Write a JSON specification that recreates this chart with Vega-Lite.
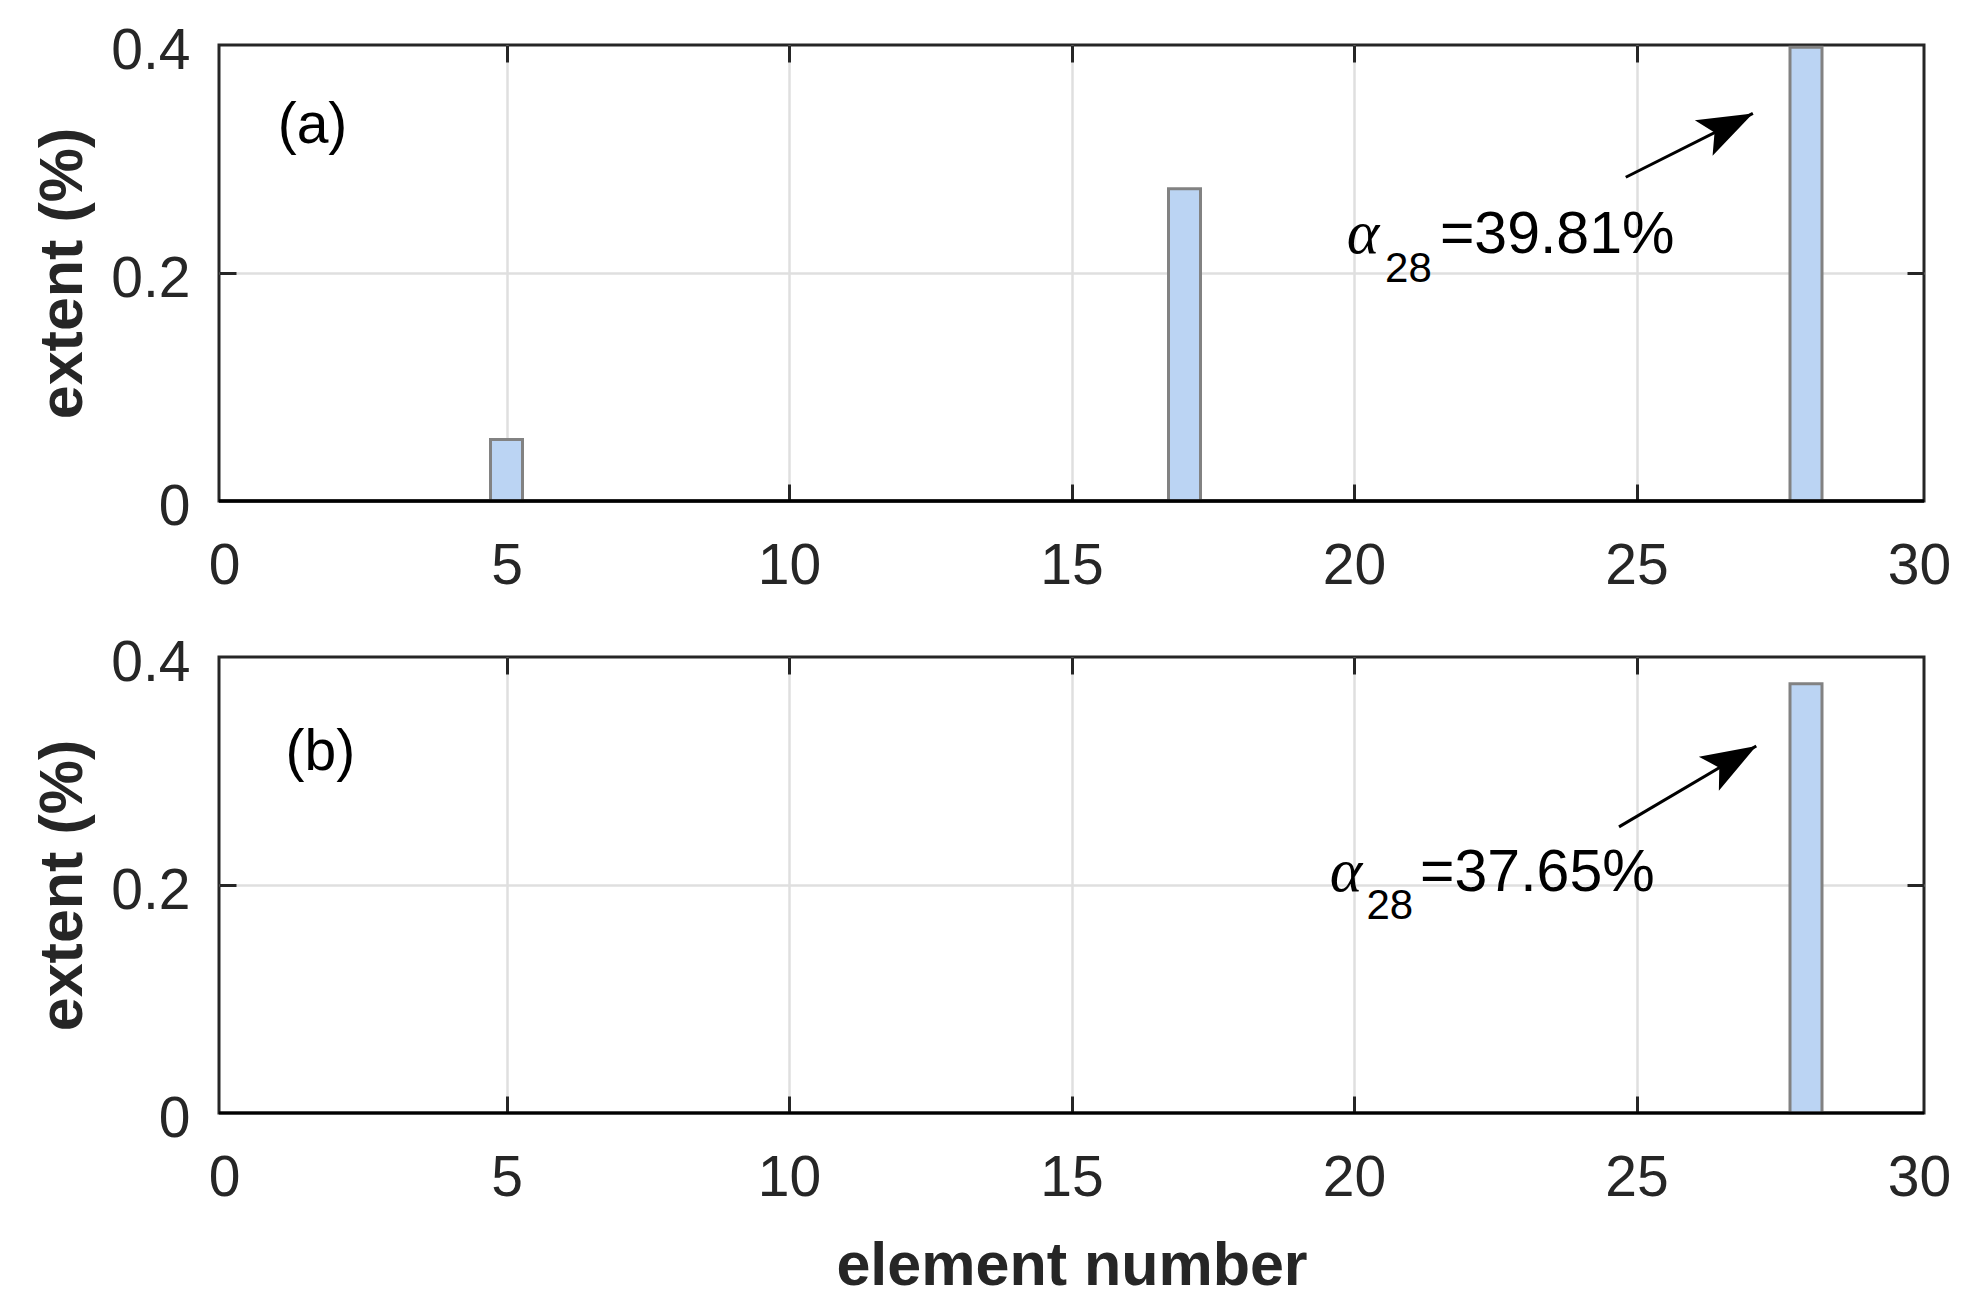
{
  "$schema": "https://vega.github.io/schema/vega-lite/v6.json",
  "description": "Extent per element, two panels (a) and (b), MATLAB-style boxed axes.",
  "padding": {"left": 30, "top": 20, "right": 10, "bottom": 10},
  "background": "white",
  "bounds": "flush",
  "spacing": 156,
  "datasets": {
    "bars_a": [
      {"element": 5, "extent": 0.054},
      {"element": 17, "extent": 0.274},
      {"element": 28, "extent": 0.3981}
    ],
    "bars_b": [
      {"element": 28, "extent": 0.3765}
    ],
    "arrow_a": [{"x": 24.81, "y": 0.284, "x2": 27.06, "y2": 0.34}],
    "arrow_b": [{"x": 24.69, "y": 0.251, "x2": 27.12, "y2": 0.322}]
  },
  "vconcat": [
    {
      "width": 1705,
      "height": 456,
      "layer": [
        {
          "data": {"name": "bars_a"},
          "mark": {"type": "bar", "size": 32, "fill": "#bbd4f3", "stroke": "#828282", "strokeWidth": 3},
          "encoding": {
            "x": {"field": "element", "type": "quantitative", "scale": {"domain": [0, 30], "nice": false},
                  "axis": {"orient": "bottom", "values": [0, 5, 10, 15, 20, 25, 30], "grid": true, "title": null,
                           "gridOpacity": {"condition": {"test": "datum.value === 0 || datum.value === 30", "value": 0}, "value": 1},
                           "tickOpacity": {"condition": {"test": "datum.value === 0 || datum.value === 30", "value": 0}, "value": 1}}},
            "y": {"field": "extent", "type": "quantitative", "scale": {"domain": [0, 0.4], "nice": false},
                  "axis": {"orient": "left", "values": [0, 0.2, 0.4], "grid": true, "format": "~g", "title": "extent (%)", "titleX": -138, "titleBaseline": "alphabetic",
                           "gridOpacity": {"condition": {"test": "datum.value === 0 || datum.value === 0.4", "value": 0}, "value": 1},
                           "tickOpacity": {"condition": {"test": "datum.value === 0 || datum.value === 0.4", "value": 0}, "value": 1}}}
          }
        },
        {
          "data": {"values": [{}]},
          "mark": {"type": "rule", "color": "#000000", "strokeWidth": 3.5},
          "encoding": {"y": {"datum": 0, "type": "quantitative", "scale": {"domain": [0, 0.4], "nice": false}, "axis": null}}
        },
        {
          "data": {"name": "arrow_a"},
          "mark": {"type": "rule", "color": "#000000", "strokeWidth": 3},
          "encoding": {
            "x": {"field": "x", "type": "quantitative", "scale": {"domain": [0, 30], "nice": false},
                  "axis": {"orient": "top", "values": [5, 10, 15, 20, 25], "labels": false, "grid": false, "title": null}},
            "y": {"field": "y", "type": "quantitative", "scale": {"domain": [0, 0.4], "nice": false},
                  "axis": {"orient": "right", "values": [0.2], "labels": false, "grid": false, "title": null}},
            "x2": {"field": "x2"},
            "y2": {"field": "y2"}
          }
        },
        {
          "data": {"name": "arrow_a"},
          "mark": {"type": "point", "shape": "M0,0L-1,-0.36L-0.78,0L-1,0.36Z", "size": 12100, "filled": true, "color": "#000000", "opacity": 1, "strokeWidth": 0, "angle": 333.4},
          "encoding": {
            "x": {"field": "x2", "type": "quantitative", "scale": {"domain": [0, 30], "nice": false}, "axis": null},
            "y": {"field": "y2", "type": "quantitative", "scale": {"domain": [0, 0.4], "nice": false}, "axis": null}
          }
        },
        {
          "data": {"values": [{"x": 19.87, "y": 0.2173, "label": "α"}]},
          "mark": {"type": "text", "font": "Liberation Serif", "fontStyle": "italic", "fontSize": 62, "align": "left", "baseline": "alphabetic", "color": "#000000"},
          "encoding": {
            "x": {"field": "x", "type": "quantitative", "scale": {"domain": [0, 30], "nice": false}, "axis": null},
            "y": {"field": "y", "type": "quantitative", "scale": {"domain": [0, 0.4], "nice": false}, "axis": null},
            "text": {"field": "label"}
          }
        },
        {
          "data": {"values": [{"x": 20.55, "y": 0.192, "label": "28"}]},
          "mark": {"type": "text", "font": "Liberation Sans", "fontSize": 42, "align": "left", "baseline": "alphabetic", "color": "#000000"},
          "encoding": {
            "x": {"field": "x", "type": "quantitative", "scale": {"domain": [0, 30], "nice": false}, "axis": null},
            "y": {"field": "y", "type": "quantitative", "scale": {"domain": [0, 0.4], "nice": false}, "axis": null},
            "text": {"field": "label"}
          }
        },
        {
          "data": {"values": [{"x": 21.52, "y": 0.2173, "label": "=39.81%"}]},
          "mark": {"type": "text", "font": "Liberation Sans", "fontSize": 59, "align": "left", "baseline": "alphabetic", "color": "#000000"},
          "encoding": {
            "x": {"field": "x", "type": "quantitative", "scale": {"domain": [0, 30], "nice": false}, "axis": null},
            "y": {"field": "y", "type": "quantitative", "scale": {"domain": [0, 0.4], "nice": false}, "axis": null},
            "text": {"field": "label"}
          }
        },
        {
          "data": {"values": [{"x": 0.95, "y": 0.314, "label": "(a)"}]},
          "mark": {"type": "text", "font": "Liberation Sans", "fontSize": 57, "align": "left", "baseline": "alphabetic", "color": "#000000"},
          "encoding": {
            "x": {"field": "x", "type": "quantitative", "scale": {"domain": [0, 30], "nice": false}, "axis": null},
            "y": {"field": "y", "type": "quantitative", "scale": {"domain": [0, 0.4], "nice": false}, "axis": null},
            "text": {"field": "label"}
          }
        }
      ],
      "resolve": {"axis": {"x": "independent", "y": "independent"}}
    },
    {
      "width": 1705,
      "height": 456,
      "layer": [
        {
          "data": {"name": "bars_b"},
          "mark": {"type": "bar", "size": 32, "fill": "#bbd4f3", "stroke": "#828282", "strokeWidth": 3},
          "encoding": {
            "x": {"field": "element", "type": "quantitative", "scale": {"domain": [0, 30], "nice": false},
                  "axis": {"orient": "bottom", "values": [0, 5, 10, 15, 20, 25, 30], "grid": true, "title": "element number", "titleY": 171, "titleBaseline": "alphabetic",
                           "gridOpacity": {"condition": {"test": "datum.value === 0 || datum.value === 30", "value": 0}, "value": 1},
                           "tickOpacity": {"condition": {"test": "datum.value === 0 || datum.value === 30", "value": 0}, "value": 1}}},
            "y": {"field": "extent", "type": "quantitative", "scale": {"domain": [0, 0.4], "nice": false},
                  "axis": {"orient": "left", "values": [0, 0.2, 0.4], "grid": true, "format": "~g", "title": "extent (%)", "titleX": -138, "titleBaseline": "alphabetic",
                           "gridOpacity": {"condition": {"test": "datum.value === 0 || datum.value === 0.4", "value": 0}, "value": 1},
                           "tickOpacity": {"condition": {"test": "datum.value === 0 || datum.value === 0.4", "value": 0}, "value": 1}}}
          }
        },
        {
          "data": {"values": [{}]},
          "mark": {"type": "rule", "color": "#000000", "strokeWidth": 3},
          "encoding": {"y": {"datum": 0, "type": "quantitative", "scale": {"domain": [0, 0.4], "nice": false}, "axis": null}}
        },
        {
          "data": {"name": "arrow_b"},
          "mark": {"type": "rule", "color": "#000000", "strokeWidth": 3},
          "encoding": {
            "x": {"field": "x", "type": "quantitative", "scale": {"domain": [0, 30], "nice": false},
                  "axis": {"orient": "top", "values": [5, 10, 15, 20, 25], "labels": false, "grid": false, "title": null}},
            "y": {"field": "y", "type": "quantitative", "scale": {"domain": [0, 0.4], "nice": false},
                  "axis": {"orient": "right", "values": [0.2], "labels": false, "grid": false, "title": null}},
            "x2": {"field": "x2"},
            "y2": {"field": "y2"}
          }
        },
        {
          "data": {"name": "arrow_b"},
          "mark": {"type": "point", "shape": "M0,0L-1,-0.36L-0.78,0L-1,0.36Z", "size": 12100, "filled": true, "color": "#000000", "opacity": 1, "strokeWidth": 0, "angle": 329.6},
          "encoding": {
            "x": {"field": "x2", "type": "quantitative", "scale": {"domain": [0, 30], "nice": false}, "axis": null},
            "y": {"field": "y2", "type": "quantitative", "scale": {"domain": [0, 0.4], "nice": false}, "axis": null}
          }
        },
        {
          "data": {"values": [{"x": 19.57, "y": 0.1947, "label": "α"}]},
          "mark": {"type": "text", "font": "Liberation Serif", "fontStyle": "italic", "fontSize": 62, "align": "left", "baseline": "alphabetic", "color": "#000000"},
          "encoding": {
            "x": {"field": "x", "type": "quantitative", "scale": {"domain": [0, 30], "nice": false}, "axis": null},
            "y": {"field": "y", "type": "quantitative", "scale": {"domain": [0, 0.4], "nice": false}, "axis": null},
            "text": {"field": "label"}
          }
        },
        {
          "data": {"values": [{"x": 20.22, "y": 0.17, "label": "28"}]},
          "mark": {"type": "text", "font": "Liberation Sans", "fontSize": 42, "align": "left", "baseline": "alphabetic", "color": "#000000"},
          "encoding": {
            "x": {"field": "x", "type": "quantitative", "scale": {"domain": [0, 30], "nice": false}, "axis": null},
            "y": {"field": "y", "type": "quantitative", "scale": {"domain": [0, 0.4], "nice": false}, "axis": null},
            "text": {"field": "label"}
          }
        },
        {
          "data": {"values": [{"x": 21.17, "y": 0.1947, "label": "=37.65%"}]},
          "mark": {"type": "text", "font": "Liberation Sans", "fontSize": 59, "align": "left", "baseline": "alphabetic", "color": "#000000"},
          "encoding": {
            "x": {"field": "x", "type": "quantitative", "scale": {"domain": [0, 30], "nice": false}, "axis": null},
            "y": {"field": "y", "type": "quantitative", "scale": {"domain": [0, 0.4], "nice": false}, "axis": null},
            "text": {"field": "label"}
          }
        },
        {
          "data": {"values": [{"x": 1.09, "y": 0.301, "label": "(b)"}]},
          "mark": {"type": "text", "font": "Liberation Sans", "fontSize": 57, "align": "left", "baseline": "alphabetic", "color": "#000000"},
          "encoding": {
            "x": {"field": "x", "type": "quantitative", "scale": {"domain": [0, 30], "nice": false}, "axis": null},
            "y": {"field": "y", "type": "quantitative", "scale": {"domain": [0, 0.4], "nice": false}, "axis": null},
            "text": {"field": "label"}
          }
        }
      ],
      "resolve": {"axis": {"x": "independent", "y": "independent"}}
    }
  ],
  "config": {
    "view": {"stroke": "#262626", "strokeWidth": 3},
    "axis": {
      "domain": false,
      "ticks": true,
      "tickSize": -17,
      "tickWidth": 3,
      "tickColor": "#262626",
      "gridColor": "#dfdfdf",
      "gridWidth": 2.5,
      "labelFont": "Liberation Sans",
      "labelFontSize": 57,
      "labelColor": "#262626",
      "labelFlush": false,
      "labelOverlap": false,
      "titleFont": "Liberation Sans",
      "titleFontSize": 61,
      "titleFontWeight": "bold",
      "titleColor": "#262626"
    },
    "axisX": {"labelPadding": 54},
    "axisY": {"labelPadding": 46, "labelOffset": 6}
  }
}
